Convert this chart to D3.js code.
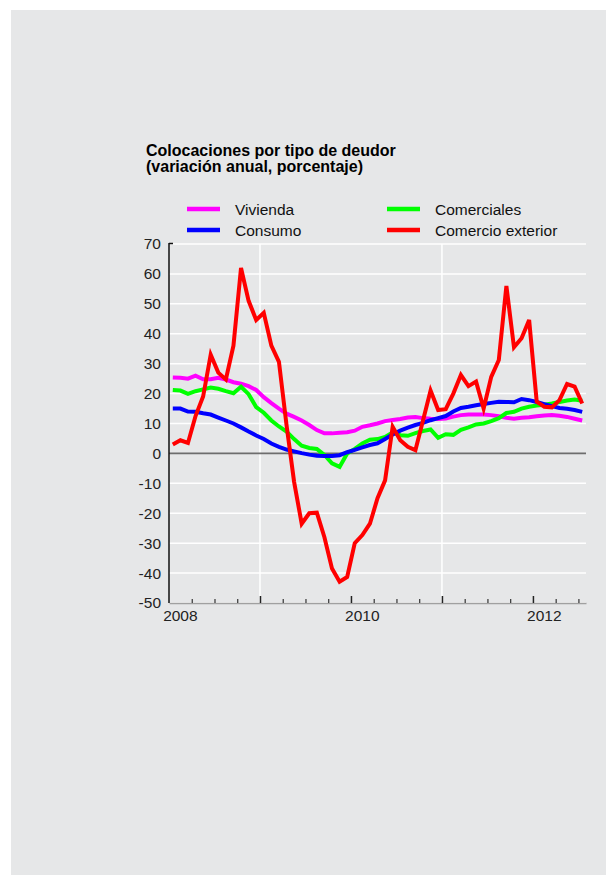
<!DOCTYPE html>
<html>
<head>
<meta charset="utf-8">
<script src="https://cdn.jsdelivr.net/npm/d3@7"></script>
<style>
  html, body { margin: 0; padding: 0; background: #ffffff; }
  svg { display: block; font-family: Arial, "Liberation Sans", sans-serif; }
</style>
</head>
<body>
<svg id="chart" width="606" height="888"></svg>
<script>
// Monthly observations, Jan 2008 .. Jul 2012
const startYear = 2008;
const vivienda = [25.4,25.3,25,26,24.8,24.8,25.3,24.7,23.8,23.3,22.5,21.2,18.8,16.8,15,13.3,12.2,11,9.5,7.8,6.7,6.7,6.9,7.1,7.6,8.9,9.4,10,10.8,11.2,11.5,12,12.2,11.8,11.6,11.5,11.7,12.3,12.8,13,13,13,12.8,12.4,11.9,11.6,11.9,12.1,12.4,12.7,12.8,12.6,12.2,11.6,11];
const consumo = [15,15,14,13.9,13.4,13,12,11,10,8.7,7.3,6,4.8,3.3,2.2,1.3,0.7,0.1,-0.4,-0.8,-0.9,-0.9,-0.6,0.4,1.2,2,2.8,3.4,4.8,6.3,7.6,8.6,9.5,10.2,11.1,11.8,12.5,14,15.2,15.6,16.1,16.5,16.9,17.3,17.2,17.1,18.2,17.8,17.2,16.5,15.8,15.2,14.9,14.5,13.9];
const comerciales = [21.2,21,19.9,20.8,21.4,22,21.6,20.8,20.1,22.3,19.8,15.5,13.6,11,9,7.3,4.8,2.6,1.8,1.5,-0.5,-3.3,-4.5,0,1.5,3.3,4.6,4.8,5.5,7,6.1,5.9,6.8,7.5,8,5.2,6.4,6.2,7.9,8.7,9.7,10,10.8,11.8,13.5,13.9,15,15.6,16,16.3,16.7,17.2,17.7,18,17.6];
const comercioExterior = [3,4.4,3.5,12.5,19,33,27,24.7,36,62,51,44.6,47,36,30.6,9.5,-9.5,-23.5,-20,-19.8,-28,-38.5,-42.9,-41.3,-30,-27.3,-23.5,-15,-9,8.9,4.4,2.2,1.1,11,21,14.5,14.8,20,26.2,22.5,24,15,25.6,31.2,56,35.5,38.5,44.6,17.3,15.6,15.4,17.8,23.2,22.3,16.7];

const seriesNames = ["Vivienda", "Consumo", "Comerciales", "Comercio exterior"];
const seriesColors = ["#ff00ff", "#0000ff", "#00ff00", "#ff0000"];
const yTicks = [70,60,50,40,30,20,10,0,-10,-20,-30,-40,-50];
const yearLabels = [2008, 2010, 2012];
const titleLines = ["Colocaciones por tipo de deudor", "(variación anual, porcentaje)"];

const svg = d3.select("#chart");
// grey panel
svg.append("rect").attr("x", 11).attr("y", 10).attr("width", 595).attr("height", 865).attr("fill", "#e6e7e8");

const pLeft = 169, pRight = 586, pTop = 244, pBottom = 603;
const nMonths = vivienda.length;
const x = d3.scaleLinear().domain([0, nMonths]).range([pLeft, pRight]);
const y = d3.scaleLinear().domain([-50, 70]).range([pBottom, pTop]);

// title
svg.append("g").selectAll("text").data(titleLines).join("text")
  .attr("x", 146).attr("y", (d, i) => 156 + i * 16)
  .attr("font-size", 16).attr("font-weight", "bold").attr("fill", "#000")
  .text(d => d);

// horizontal grid
svg.append("g").selectAll("line").data(yTicks.filter(v => v !== 0)).join("line")
  .attr("x1", pLeft).attr("x2", pRight)
  .attr("y1", d => y(d)).attr("y2", d => y(d))
  .attr("stroke", "#ffffff").attr("stroke-width", 1.5);
// vertical grid at odd years
const gridYears = [2009, 2011];
svg.append("g").selectAll("line").data(gridYears).join("line")
  .attr("x1", d => x((d - startYear) * 12)).attr("x2", d => x((d - startYear) * 12))
  .attr("y1", pTop).attr("y2", pBottom)
  .attr("stroke", "#ffffff").attr("stroke-width", 1.5);

// zero line
svg.append("line").attr("x1", pLeft).attr("x2", pRight).attr("y1", y(0)).attr("y2", y(0))
  .attr("stroke", "#6d6d6d").attr("stroke-width", 1.8);

// x axis (ticks pointing up)
const quarterTicks = d3.range(0, nMonths + 1, 3);
const xAxis = d3.axisTop(x).tickValues(quarterTicks).tickFormat("")
  .tickSize(0).tickSizeOuter(0);
const gx = svg.append("g").attr("transform", `translate(0,${pBottom})`).call(xAxis);
gx.select(".domain").attr("stroke", "#a0a0a0").attr("stroke-width", 1.5);
gx.selectAll(".tick line")
  .attr("y2", d => (d % 12 === 0 ? -7 : -4))
  .attr("stroke", d => (d % 12 === 0 ? "#222" : "#333"))
  .attr("stroke-width", d => (d % 12 === 0 ? 1.5 : 1.2));
gx.selectAll(".tick").filter(d => d === 0).remove();

// x labels
svg.append("g").selectAll("text").data(yearLabels).join("text")
  .attr("x", d => x((d - startYear) * 12 + 1.5))
  .attr("y", 621)
  .attr("text-anchor", "middle").attr("font-size", 15.5).attr("fill", "#222")
  .text(d => d);

// y axis
const yAxis = d3.axisLeft(y).tickValues(yTicks).tickFormat(d => String(d)).tickSize(0).tickPadding(8);
const gy = svg.append("g").attr("transform", `translate(${pLeft},0)`).call(yAxis);
gy.select(".domain").remove();
gy.append("line").attr("x1", 0).attr("x2", 0).attr("y1", pTop - 1).attr("y2", pBottom)
  .attr("stroke", "#111").attr("stroke-width", 1.5);
gy.append("line").attr("x1", 0).attr("x2", 4).attr("y1", pTop - 0.5).attr("y2", pTop - 0.5)
  .attr("stroke", "#111").attr("stroke-width", 1.5);
gy.selectAll(".tick text").attr("font-size", 15.5).attr("fill", "#222")
  .attr("font-family", "Arial, 'Liberation Sans', sans-serif");

// lines
const allSeries = [vivienda, comerciales, consumo, comercioExterior];
const colorFor = [seriesColors[0], seriesColors[2], seriesColors[1], seriesColors[3]];
const line = d3.line().x((d, i) => x(i + 0.5)).y(d => y(d));
svg.append("g").selectAll("path").data(allSeries).join("path")
  .attr("d", d => line(d))
  .attr("fill", "none")
  .attr("stroke", (d, i) => colorFor[i])
  .attr("stroke-width", 4)
  .attr("stroke-linejoin", "miter");

// legend
const legendItems = [
  { name: seriesNames[0], color: seriesColors[0], lx: 187, ly: 209 },
  { name: seriesNames[1], color: seriesColors[1], lx: 187, ly: 230 },
  { name: seriesNames[2], color: seriesColors[2], lx: 387, ly: 209 },
  { name: seriesNames[3], color: seriesColors[3], lx: 387, ly: 230 }
];
const lg = svg.append("g").selectAll("g").data(legendItems).join("g");
lg.append("line")
  .attr("x1", d => d.lx).attr("x2", d => d.lx + 33)
  .attr("y1", d => d.ly).attr("y2", d => d.ly)
  .attr("stroke", d => d.color).attr("stroke-width", 4.5);
lg.append("text")
  .attr("x", d => d.lx + 48).attr("y", d => d.ly + 6)
  .attr("font-size", 15.5).attr("fill", "#111")
  .text(d => d.name);
</script>
</body>
</html>
